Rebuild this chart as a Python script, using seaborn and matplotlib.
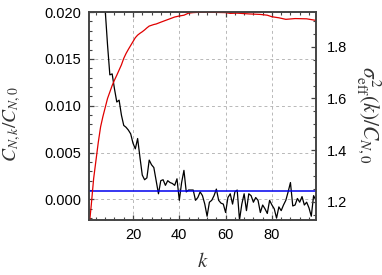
import matplotlib
matplotlib.use("Agg")
import matplotlib.pyplot as plt
import seaborn as sns
import pandas as pd
from matplotlib.ticker import MultipleLocator

# ---- data ----
k_black = [6, 7, 8, 9, 10, 11, 12, 13, 14, 15, 16, 17, 18, 19, 20, 21, 22, 23, 24, 25,
           26, 27, 28, 29, 30, 31, 32, 33, 34, 35, 36, 37, 38, 39, 40, 41, 42, 43, 44, 45,
           46, 47, 48, 49, 50, 51, 52, 53, 54, 55, 56, 57, 58, 59, 60, 61, 62, 63, 64, 65,
           66, 67, 68, 69, 70, 71, 72, 73, 74, 75, 76, 77, 78, 79, 80, 81, 82, 83, 84, 85,
           86, 87, 88, 89, 90, 91, 92, 93, 94, 95, 96, 97, 98, 99]
c_black = [0.0300, 0.0250, 0.0202, 0.0165, 0.0133, 0.0134, 0.0118, 0.0104, 0.0106, 0.0090,
           0.0079, 0.0077, 0.0074, 0.0070, 0.0060, 0.0054, 0.0065, 0.0045, 0.0026, 0.0021,
           0.0023, 0.0042, 0.0037, 0.0034, 0.0020, 0.0006, 0.0020, 0.0021, 0.0015, 0.0020,
           0.0018, 0.0017, 0.0015, 0.0022, -0.0001, 0.0018, 0.0031, 0.0008, 0.0010, 0.0010,
           0.0010, -0.0001, 0.0002, 0.0008, 0.0004, -0.0005, -0.0018, -0.0003, -0.0001, 0.0004,
           0.0011, -0.0001, -0.0004, -0.0005, -0.0014, 0.0002, 0.0006, -0.0005, 0.0008, 0.0010,
           -0.0022, -0.0005, 0.0006, -0.0012, 0.0006, 0.0004, -0.0003, 0.0002, -0.0001, -0.0014,
           -0.0006, -0.0010, -0.0015, -0.0001, -0.0006, -0.0010, -0.0020, -0.0008, -0.0012, -0.0006,
           -0.0001, 0.0008, 0.0018, -0.0007, -0.0006, 0.0001, -0.0003, 0.0003, -0.0006, -0.0003,
           -0.0009, -0.0018, 0.0004, -0.0001]

k_red = [1, 2, 3, 4, 5, 6, 7, 8, 9, 10, 11, 12, 13, 14, 15, 16, 17, 18, 19, 20, 21, 22, 23,
         24, 25, 26, 27, 28, 29, 30, 32, 35, 38, 40, 42, 44, 46, 50, 55, 60, 62, 65, 70, 75,
         78, 80, 83, 86, 90, 95, 99]
s_red = [1.10, 1.19, 1.29, 1.36, 1.43, 1.49, 1.53, 1.565, 1.60, 1.625, 1.65, 1.671, 1.69,
         1.71, 1.73, 1.755, 1.774, 1.79, 1.805, 1.82, 1.835, 1.845, 1.852, 1.858, 1.865,
         1.873, 1.88, 1.883, 1.886, 1.888, 1.895, 1.905, 1.915, 1.919, 1.922, 1.93, 1.932,
         1.934, 1.933, 1.932, 1.929, 1.930, 1.927, 1.925, 1.922, 1.916, 1.912, 1.906, 1.909,
         1.908, 1.902]

blue_level = 0.00089

x_ticks = [20, 40, 60, 80]
left_ticks = [0.000, 0.005, 0.010, 0.015, 0.020]
right_ticks = [1.2, 1.4, 1.6, 1.8]

# ---- style ----
sns.set_style("ticks")
plt.rcParams['font.family'] = ['Liberation Sans', 'DejaVu Sans']
plt.rcParams['mathtext.fontset'] = 'stix'

fig = plt.figure(figsize=(3.82, 2.75), dpi=100)
ax = fig.add_axes([0.233, 0.2, 0.594, 0.756])
ax2 = ax.twinx()

df_black = pd.DataFrame({"k": k_black, "c": c_black})
df_red = pd.DataFrame({"k": k_red, "s": s_red})

sns.lineplot(data=df_black, x="k", y="c", ax=ax, color="black", lw=0.9, zorder=3)
ax.axhline(blue_level, color="#0000ee", lw=1.1, zorder=4)
sns.lineplot(data=df_red, x="k", y="s", ax=ax2, color="#e00000", lw=0.9)

ax.set_xlim(1, 99)
ax.set_ylim(-0.0022, 0.020)
ax2.set_ylim(1.13, 1.934)

ax.set_xticks(x_ticks)
ax.set_yticks(left_ticks)
ax.set_yticklabels([f"{v:.3f}" for v in left_ticks])
ax2.set_yticks(right_ticks)
ax2.set_yticklabels([f"{v:.1f}" for v in right_ticks])
ax.xaxis.set_minor_locator(MultipleLocator(4))
ax.yaxis.set_minor_locator(MultipleLocator(0.001))
ax2.yaxis.set_minor_locator(MultipleLocator(0.05))

ax.grid(True, which="major", color="#b8b8b8", ls=(0, (3, 3)), lw=0.7)
ax.set_axisbelow(True)

spine_c = "#444444"
for a in (ax, ax2):
    for s in a.spines.values():
        s.set_color(spine_c)
        s.set_linewidth(1.2)
        s.set_visible(True)

ax.tick_params(axis="both", which="both", direction="in", colors=spine_c,
               labelcolor="black", labelsize=10.5, top=True, right=False)
ax.tick_params(axis="y", which="major", pad=5.5)
ax.tick_params(axis="x", which="major", pad=6)
ax.tick_params(which="major", length=3.5, width=0.9)
ax.tick_params(which="minor", length=2, width=0.8)
ax2.tick_params(axis="y", which="both", direction="in", colors=spine_c,
                labelcolor="black", labelsize=10.5)
ax2.tick_params(which="major", length=3.5, width=0.9, pad=8)
ax2.tick_params(which="minor", length=2, width=0.8)

ax.set_xlabel("$k$", fontsize=15, color="#333333", va="center")
ax.xaxis.set_label_coords(0.5, -0.2)
ax.set_ylabel("$C_{N,k}/C_{N,0}$", fontsize=14, color="#333333", va="center")
ax.yaxis.set_label_coords(-0.34, 0.46)
ax2.set_ylabel(r"$\sigma^2_{\rm eff}(k)/C_{N,0}$", fontsize=15.5, color="#333333",
               rotation=-90, va="center", ha="center")
ax2.yaxis.set_label_coords(1.228, 0.505)

fig.savefig("out.png", dpi=100)
